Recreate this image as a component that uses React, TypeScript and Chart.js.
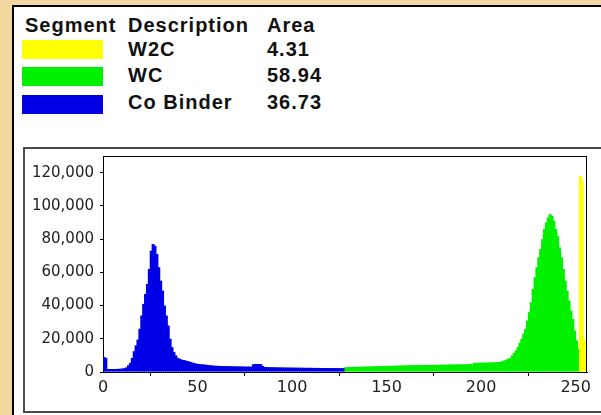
import React, { useEffect, useRef } from "react";
import { Chart, registerables } from "chart.js";

Chart.register(...registerables);

// Legend table
const tableHeaders = ["Segment", "Description", "Area"];
const segmentNames = ["W2C", "WC", "Co Binder"];
const segmentAreas = ["4.31", "58.94", "36.73"];
const segmentColors = ["#FFFF00", "#00F000", "#0000E6"];
// first histogram bin belonging to each segment (segments listed as in the legend)
const segmentFirstBin = [252, 128, 0];

// Axis ticks
const xTicks = [0, 50, 100, 150, 200, 250];
const yTicks = [0, 20000, 40000, 60000, 80000, 100000, 120000];

// Histogram counts for grey levels 0..255
const counts = [
  // 0-9
  9000, 8500, 1800, 1800, 1800, 1800, 1800, 1850, 1900, 2000,
  // 10-19
  2100, 2300, 2800, 4000, 5500, 8500, 12500, 16000, 19500, 26000,
  // 20-29
  34000, 41000, 47000, 53000, 62000, 73000, 77000, 76000, 71000, 63000,
  // 30-39
  55000, 49000, 40000, 34000, 28000, 20000, 15000, 12000, 10000, 8500,
  // 40-49
  8000, 7500, 7200, 7000, 6600, 6300, 6000, 5600, 5300, 5000,
  // 50-59
  4800, 4700, 4600, 4500, 4400, 4250, 4100, 3950, 3850, 3750,
  // 60-69
  3700, 3650, 3600, 3550, 3550, 3500, 3500, 3450, 3450, 3400,
  // 70-79
  3400, 3350, 3350, 3300, 3300, 3250, 3250, 3200, 3200, 4600,
  // 80-89
  4800, 4800, 4800, 4700, 3600, 3000, 2950, 2900, 2900, 2850,
  // 90-99
  2850, 2800, 2800, 2750, 2750, 2700, 2700, 2700, 2650, 2650,
  // 100-109
  2650, 2600, 2600, 2600, 2550, 2550, 2550, 2500, 2500, 2500,
  // 110-119
  2500, 2450, 2450, 2450, 2450, 2400, 2400, 2400, 2400, 2400,
  // 120-127
  2350, 2350, 2350, 2350, 2300, 2300, 2300, 2300,
  // 128-139
  2900, 2950, 3000, 3000, 3050, 3100, 3100, 3150, 3200, 3200, 3250, 3300,
  // 140-149
  3300, 3350, 3400, 3400, 3450, 3500, 3500, 3550, 3600, 3600,
  // 150-159
  3650, 3700, 3700, 3750, 3800, 3800, 3850, 3900, 3900, 3950,
  // 160-169
  4000, 4000, 4050, 4050, 4100, 4100, 4150, 4150, 4200, 4200,
  // 170-179
  4200, 4250, 4250, 4300, 4300, 4300, 4350, 4350, 4400, 4400,
  // 180-189
  4400, 4450, 4450, 4500, 4500, 4500, 4550, 4550, 4600, 4600,
  // 190-199
  4600, 4650, 4650, 4700, 4700, 4700, 5500, 5500, 5550, 5550,
  // 200-209
  5600, 5600, 5650, 5700, 5700, 5750, 5800, 5850, 5900, 6000,
  // 210-219
  6200, 6500, 7000, 7500, 8000, 8500, 10000, 11500, 13000, 15000,
  // 220-229
  17500, 20000, 23000, 26000, 31000, 36000, 42000, 50000, 57000, 63000,
  // 230-239
  69000, 74000, 80000, 86000, 90000, 93000, 95000, 94000, 91000, 86000,
  // 240-249
  82000, 75000, 69000, 62000, 55000, 49000, 43000, 37000, 32000, 25000,
  // 250-255
  19000, 14000, 118000, 115000, 20000, 5000,
];

const legendFont = "'Liberation Sans', Arial, sans-serif";

export default function App() {
  const canvasRef = useRef<HTMLCanvasElement>(null);

  useEffect(() => {
    const canvas = canvasRef.current;
    if (!canvas) return;
    const colors = counts.map((_, i) => {
      const s = segmentFirstBin.findIndex((b) => i >= b);
      return segmentColors[s];
    });
    const framePlugin = {
      id: "frame",
      afterDatasetsDraw(chart: any) {
        const { ctx, chartArea: a } = chart;
        ctx.save();
        ctx.strokeStyle = "#000";
        ctx.lineWidth = 1;
        ctx.beginPath();
        ctx.moveTo(Math.round(a.left), Math.round(a.top) + 0.5);
        ctx.lineTo(Math.round(a.right), Math.round(a.top) + 0.5);
        ctx.moveTo(Math.round(a.right) - 0.5, Math.round(a.top));
        ctx.lineTo(Math.round(a.right) - 0.5, Math.round(a.bottom));
        ctx.stroke();
        ctx.restore();
      },
    };
    const chart = new Chart(canvas, {
      type: "bar",
      data: {
        datasets: [
          {
            data: counts.map((v, i) => ({ x: i + 0.5, y: v })),
            backgroundColor: colors,
            borderWidth: 0,
            barThickness: 3,
            inflateAmount: 0,
          },
        ],
      },
      options: {
        animation: false,
        responsive: false,
        layout: { padding: { left: 0, top: 156, right: 14, bottom: 13 } },
        plugins: { legend: { display: false }, tooltip: { enabled: false } },
        scales: {
          x: {
            type: "linear",
            min: 0,
            max: 256,
            offset: false,
            afterBuildTicks: (s: any) => {
              s.ticks = xTicks.map((v) => ({ value: v }));
            },
            afterFit: (s: any) => {
              s.height = 30;
            },
            grid: { drawOnChartArea: false, drawTicks: true, tickLength: 4, color: "#000" },
            border: { color: "#000", width: 1 },
            ticks: {
              color: "#222",
              font: { family: "'DejaVu Sans'", size: 16 },
              padding: 2,
              maxRotation: 0,
              autoSkip: false,
            },
          },
          y: {
            type: "linear",
            min: 0,
            max: 130000,
            afterBuildTicks: (s: any) => {
              s.ticks = yTicks.map((v) => ({ value: v }));
            },
            afterFit: (s: any) => {
              s.width = 103;
            },
            grid: { drawOnChartArea: false, drawTicks: true, tickLength: 3, color: "#000" },
            border: { color: "#000", width: 1 },
            ticks: {
              color: "#222",
              font: { family: "'DejaVu Sans'", size: 15 },
              padding: 6,
              autoSkip: false,
              callback: (v: any) => Number(v).toLocaleString("en-US"),
            },
          },
        },
      },
      plugins: [framePlugin],
    } as any);
    return () => chart.destroy();
  }, []);

  const textStyle = (left: number, top: number): React.CSSProperties => ({
    position: "absolute",
    left,
    top,
    fontFamily: legendFont,
    fontWeight: "bold",
    fontSize: 20,
    lineHeight: "20px",
    letterSpacing: 1,
    color: "#111",
    whiteSpace: "nowrap",
  });

  const rowTops = [39, 65, 92];
  const swatchTops = [40, 67, 95];

  return (
    <div
      style={{
        position: "fixed",
        left: 0,
        top: 0,
        width: 601,
        height: 415,
        overflow: "hidden",
        background: "#F3D9A0",
      }}
    >
      <div
        style={{
          position: "absolute",
          left: 12,
          top: 5,
          width: 620,
          height: 440,
          background: "#fff",
          borderLeft: "2px solid #000",
          borderTop: "2px solid #000",
        }}
      />
      <div style={textStyle(25, 15)}>{tableHeaders[0]}</div>
      <div style={textStyle(128, 15)}>{tableHeaders[1]}</div>
      <div style={textStyle(267, 15)}>{tableHeaders[2]}</div>
      {segmentNames.map((name, i) => (
        <React.Fragment key={name}>
          <div
            style={{
              position: "absolute",
              left: 22,
              top: swatchTops[i],
              width: 81,
              height: 19,
              background: segmentColors[i],
            }}
          />
          <div style={textStyle(128, rowTops[i])}>{name}</div>
          <div style={textStyle(267, rowTops[i])}>{segmentAreas[i]}</div>
        </React.Fragment>
      ))}
      <div
        style={{
          position: "absolute",
          left: 23,
          top: 147,
          width: 640,
          height: 262,
          border: "2px solid #4a4a4a",
        }}
      />
      <canvas
        ref={canvasRef}
        width={601}
        height={415}
        style={{ position: "absolute", left: 0, top: 0, width: 601, height: 415 }}
      />
    </div>
  );
}
